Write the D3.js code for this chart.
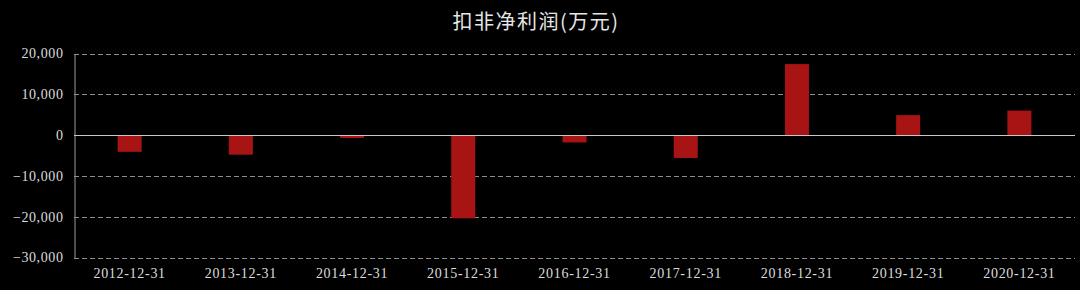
<!DOCTYPE html>
<html>
<head>
<meta charset="utf-8">
<script src="https://d3js.org/d3.v7.min.js"></script>
<style>
  body { margin: 0; background: #000; }
</style>
</head>
<body>
<script>
// data (万元)
var dates = ["2012-12-31", "2013-12-31", "2014-12-31", "2015-12-31", "2016-12-31",
             "2017-12-31", "2018-12-31", "2019-12-31", "2020-12-31"];
var profit = [-4100, -4800, -700, -20400, -1800, -5600, 17400, 4900, 6000];
var yTicks = [20000, 10000, 0, -10000, -20000, -30000];
var title = "扣非净利润(万元)";

var width = 1080, height = 290;
var plotLeft = 74, plotRight = 1075, plotTop = 53.5, plotBottom = 257.5;

var svg = d3.select("body").append("svg")
  .attr("width", width)
  .attr("height", height)
  .style("display", "block")
  .style("background", "#000");

var x = d3.scaleBand()
  .domain(dates)
  .range([plotLeft, plotRight])
  .paddingInner(0.784)
  .paddingOuter(0.392);

var y = d3.scaleLinear()
  .domain([-30000, 20000])
  .range([plotBottom, plotTop]);

// title
svg.append("text")
  .attr("x", 536)
  .attr("y", 29)
  .attr("text-anchor", "middle")
  .attr("fill", "#e6e6e6")
  .style("font-family", "'Noto Sans CJK SC', sans-serif")
  .style("font-size", "20px")
  .style("letter-spacing", "1.5px")
  .text(title);

// dashed grid
svg.append("g")
  .selectAll("line")
  .data(yTicks.filter(function(d) { return d !== 0; }))
  .join("line")
  .attr("x1", plotLeft)
  .attr("x2", plotRight)
  .attr("y1", function(d) { return Math.round(y(d)) + 0.5; })
  .attr("y2", function(d) { return Math.round(y(d)) + 0.5; })
  .attr("stroke", "#8c8c8c")
  .attr("stroke-width", 1)
  .attr("stroke-dasharray", "5,3");

// y axis
var yAxis = svg.append("g")
  .attr("transform", "translate(" + (plotLeft + 0.5) + ",0)")
  .call(d3.axisLeft(y).tickValues(yTicks).tickSize(0).tickPadding(11)
    .tickFormat(d3.format(",")));
yAxis.select(".domain").attr("stroke", "#9a9a9a");
yAxis.selectAll("text")
  .attr("fill", "#dcdcdc")
  .style("font-family", "'Liberation Serif', serif")
  .style("font-size", "14px")
  .style("letter-spacing", "0.6px");

// bars
svg.append("g")
  .selectAll("rect")
  .data(profit)
  .join("rect")
  .attr("x", function(d, i) { return x(dates[i]); })
  .attr("width", x.bandwidth())
  .attr("y", function(d) { return y(Math.max(0, d)); })
  .attr("height", function(d) { return Math.abs(y(d) - y(0)); })
  .attr("fill", "#a81414");

// zero line
svg.append("line")
  .attr("x1", plotLeft)
  .attr("x2", plotRight)
  .attr("y1", Math.round(y(0)) + 0.5)
  .attr("y2", Math.round(y(0)) + 0.5)
  .attr("stroke", "#c8c8c8")
  .attr("stroke-width", 1);

// x labels
var xAxis = svg.append("g")
  .attr("transform", "translate(0," + plotBottom + ")")
  .call(d3.axisBottom(x).tickSize(0).tickPadding(11));
xAxis.select(".domain").remove();
xAxis.selectAll("text")
  .attr("fill", "#dcdcdc")
  .style("font-family", "'Liberation Serif', serif")
  .style("font-size", "14px")
  .style("letter-spacing", "0.7px");
</script>
</body>
</html>
